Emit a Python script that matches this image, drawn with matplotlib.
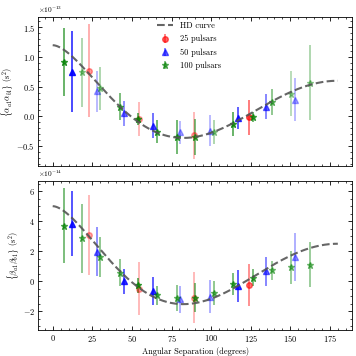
import numpy as np
import matplotlib
matplotlib.use("Agg")
import matplotlib.pyplot as plt
from matplotlib.ticker import AutoMinorLocator

plt.rcParams.update({
    "font.family": "cmr10",
    "mathtext.fontset": "cm",
    "axes.formatter.use_mathtext": True,
    "font.size": 6,
    "xtick.direction": "in",
    "ytick.direction": "in",
    "xtick.top": True,
    "ytick.right": True,
    "xtick.minor.visible": True,
    "ytick.minor.visible": True,
    "axes.linewidth": 0.6,
})

# HD curve amplitudes (s^2)
amp_alpha = 2.4e-13
amp_beta = 1.0e-13

# 25 pulsars
x25 = [22.7, 54.5, 89.2, 123.8]
a25 = [0.77, -0.05, -0.32, -0.02]
a25_err = [0.79, 0.29, 0.40, 0.30]
b25 = [3.07, -0.48, -1.09, -0.26]
b25_err = [2.65, 1.77, 1.70, 1.40]

# 50 pulsars
x50 = [12.4, 27.7, 45.1, 63.4, 80.6, 99.4, 116.8, 134.7, 152.9]
a50 = [0.755, 0.42, 0.05, -0.16, -0.27, -0.245, -0.03, 0.16, 0.28]
a50_err = [0.69, 0.34, 0.21, 0.21, 0.19, 0.26, 0.18, 0.21, 0.36]
b50 = [3.84, 1.98, 0.0, -0.63, -1.18, -1.03, -0.31, 0.67, 1.63]
b50_err = [2.15, 1.60, 0.85, 0.95, 0.90, 1.10, 1.05, 0.98, 1.60]

# 100 pulsars
x100 = [7.4, 18.4, 30.0, 42.5, 53.9, 66.1, 78.3, 90.0, 102.1, 114.0, 126.3, 138.4, 150.2, 162.2]
a100 = [0.92, 0.745, 0.47, 0.16, -0.05, -0.26, -0.35, -0.345, -0.26, -0.13, -0.01, 0.24, 0.38, 0.57]
a100_err = [0.57, 0.58, 0.37, 0.23, 0.10, 0.19, 0.28, 0.30, 0.20, 0.21, 0.09, 0.22, 0.38, 0.64]
b100 = [3.70, 2.85, 1.63, 0.57, -0.26, -0.92, -1.13, -1.09, -0.76, -0.15, 0.24, 0.72, 0.94, 1.09]
b100_err = [2.50, 2.27, 1.35, 0.90, 0.50, 0.63, 0.87, 0.95, 0.80, 0.73, 0.57, 0.60, 1.10, 1.50]

# per-point opacity
a25_alpha = [0.4, 0.35, 0.35, 0.65]
a50_alpha = [0.9, 0.35, 0.55, 0.7, 0.35, 0.35, 0.8, 0.6, 0.35]
a100_alpha = [0.75, 0.4, 0.4, 0.65, 0.75, 0.7, 0.7, 0.65, 0.4, 0.75, 0.7, 0.55, 0.35, 0.4]
b25_alpha = [0.35, 0.35, 0.35, 0.55]
b50_alpha = [0.85, 0.55, 0.8, 0.8, 0.4, 0.4, 0.8, 0.6, 0.4]
b100_alpha = [0.65, 0.55, 0.55, 0.55, 0.75, 0.6, 0.55, 0.65, 0.55, 0.65, 0.65, 0.5, 0.5, 0.5]


def hd(theta_deg):
    x = (1 - np.cos(np.radians(theta_deg))) / 2
    with np.errstate(divide="ignore", invalid="ignore"):
        xl = np.where(x > 0, x * np.log(x), 0.0)
    return 0.5 - x / 4 + 1.5 * xl


styles = [
    dict(color="red", marker="o", ms=4.0, label="25 pulsars"),
    dict(color="blue", marker="^", ms=4.5, label="50 pulsars"),
    dict(color="green", marker="*", ms=4.8, label="100 pulsars"),
]

fig, axes = plt.subplots(2, 1, figsize=(3.56, 3.56), dpi=100, sharex=True)
fig.subplots_adjust(left=0.108, right=0.989, top=0.952, bottom=0.073, hspace=0.105)

theta = np.linspace(0, 180, 300)
panels = [
    (axes[0], amp_alpha, 1e-13,
     [(x25, a25, a25_err, a25_alpha), (x50, a50, a50_err, a50_alpha), (x100, a100, a100_err, a100_alpha)],
     r"$\{\alpha_{a1}\alpha_{b1}\}$ (s$^2$)"),
    (axes[1], amp_beta, 1e-14,
     [(x25, b25, b25_err, b25_alpha), (x50, b50, b50_err, b50_alpha), (x100, b100, b100_err, b100_alpha)],
     r"$\{\beta_{a1}\beta_{b1}\}$ (s$^2$)"),
]

for ax, amp, unit, series, ylab in panels:
    ax.plot(theta, amp * hd(theta), ls="--", color="#555555", lw=1.5, alpha=0.9, label="HD curve", zorder=3)
    for (xs, ys, es, als), st in zip(series, styles):
        for xv, yv, ev, al in zip(xs, ys, es, als):
            ax.errorbar(xv, yv * unit, yerr=ev * unit, fmt=st["marker"], color=st["color"],
                        ms=st["ms"], elinewidth=1.1, alpha=al, zorder=2)
    ax.set_ylabel(ylab, labelpad=1)
    ax.xaxis.set_minor_locator(AutoMinorLocator(5))
    ax.tick_params(which="major", length=3, width=0.6, labelsize=6, pad=2.5)
    ax.tick_params(which="minor", length=1.5, width=0.5)
    ax.yaxis.get_offset_text().set_fontsize(5.3)

# legend proxies
handles = [axes[0].get_lines()[0]]
for st in styles:
    h = axes[0].errorbar([np.nan], [np.nan], yerr=[np.nan], fmt=st["marker"], color=st["color"],
                         ms=st["ms"], elinewidth=1.1, alpha=0.6)
    handles.append(h)
axes[0].legend(handles, ["HD curve"] + [s["label"] for s in styles], loc="upper center",
               frameon=False, fontsize=6, handlelength=2.0, labelspacing=0.6,
               bbox_to_anchor=(0.48, 1.02))

axes[1].set_xticks([0, 25, 50, 75, 100, 125, 150, 175])
axes[1].set_xlabel("Angular Separation (degrees)", labelpad=1.5)

fig.savefig("out.png", dpi=100)
